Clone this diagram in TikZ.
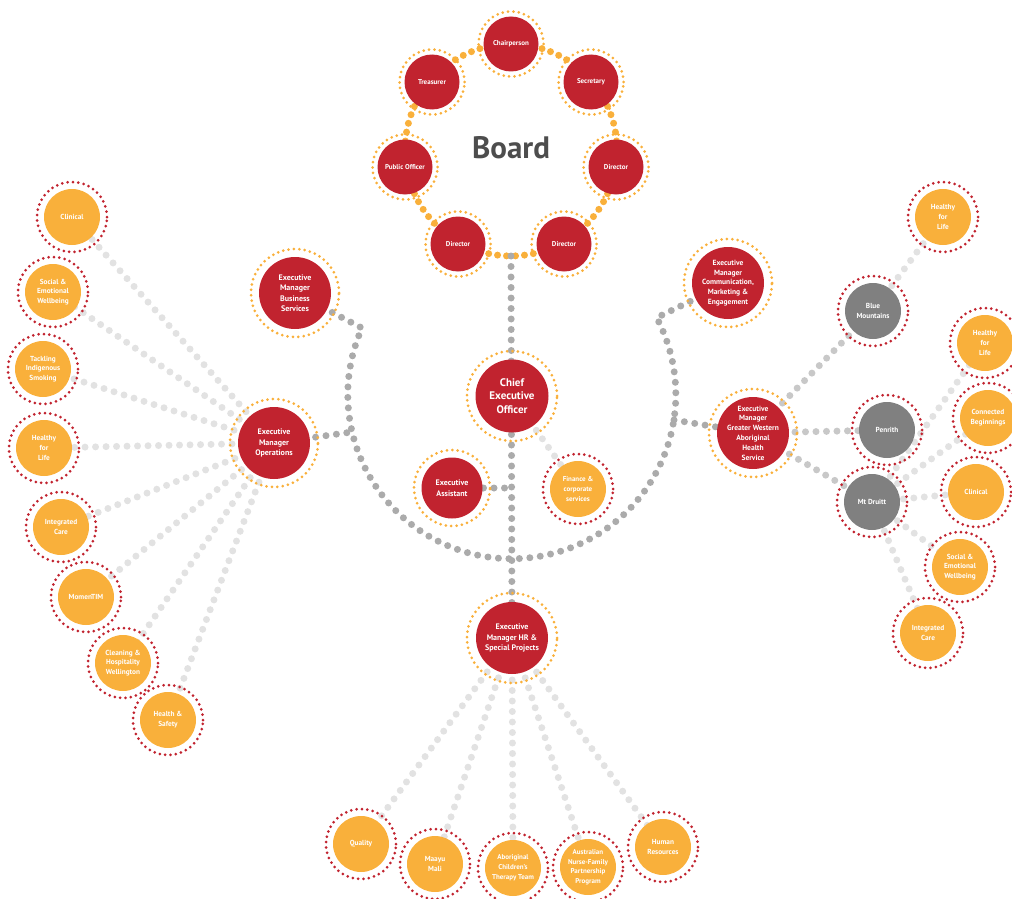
\documentclass[tikz,border=0pt]{standalone}
\usepackage{fontspec}
\setmainfont{PT Sans}
\usetikzlibrary{backgrounds}

\definecolor{unitred}{HTML}{C1232F}
\definecolor{unitorange}{HTML}{F9B03B}
\definecolor{sitegray}{HTML}{808080}
\definecolor{trunkgray}{HTML}{ABABAB}
\definecolor{linkgray}{HTML}{C8C8C8}
\definecolor{branchgray}{HTML}{E2E2E2}
\definecolor{boardtext}{HTML}{4D4D4D}

\tikzset{
  ring/.style={circle, inner sep=0pt, align=center, text=white,
    line width=3pt, dash pattern=on 0pt off 5.4pt, line cap=round},
  core/.style 2 args={path picture={\fill[#1] (path picture bounding box.center) circle (#2pt);}},
  boardmember/.style={ring, draw=unitorange, minimum size=65pt, core={unitred}{27.5},
    font=\fontsize{7}{8.5}\selectfont\bfseries},
  manager/.style={ring, draw=unitorange, minimum size=88pt, core={unitred}{36},
    font=\fontsize{8}{10.5}\selectfont\bfseries},
  programme/.style={ring, draw=unitred, minimum size=70pt, core={unitorange}{28},
    font=\fontsize{7.3}{9.8}\selectfont\bfseries},
  site/.style={ring, draw=unitred, minimum size=70pt, core={sitegray}{28},
    font=\fontsize{7.3}{9.8}\selectfont\bfseries},
  trunk/.style={draw=trunkgray, line width=7pt, dash pattern=on 0pt off 10.5pt, line cap=round},
  link/.style={trunk, draw=linkgray},
  branch/.style={trunk, draw=branchgray},
  boardring/.style={draw=unitorange, line width=7pt, dash pattern=on 0pt off 9pt, line cap=round},
}

\begin{document}
\begin{tikzpicture}[x=1pt,y=-1pt]
    \useasboundingbox (0,0) rectangle (1012,899);

    % board
    \node[boardmember] (chair) at (511,44) {Chairperson};
    \node[boardmember] (secretary) at (591,82) {Secretary};
    \node[boardmember] (director1) at (616,167) {Director};
    \node[boardmember] (director2) at (564,244) {Director};
    \node[boardmember] (director3) at (458,244) {Director};
    \node[boardmember] (publicofficer) at (405,167) {Public Officer};
    \node[boardmember] (treasurer) at (432,82) {Treasurer};
    \node[font=\fontsize{31}{31}\selectfont\bfseries, text=boardtext] (board) at (511,148) {Board};
    \coordinate (boardfoot) at (511,256);

    % executive
    \node[manager, minimum size=90pt, core={unitred}{36.5}, font=\fontsize{11}{13.5}\selectfont\bfseries]
        (ceo) at (512,396) {Chief\\Executive\\Officer};
    \node[manager, minimum size=76pt, core={unitred}{30.5}] (assistant) at (452,488) {Executive\\Assistant};
    \node[programme, font=\fontsize{7}{9.8}\selectfont\bfseries] (finance) at (578,489) {Finance \&\\corporate\\services};
    \node[manager, minimum size=90pt] (hrsp) at (512,638) {Executive\\Manager HR \&\\Special Projects};
    \node[manager] (business) at (295,293) {Executive\\Manager\\Business\\Services};
    \node[manager] (operations) at (274,443) {Executive\\Manager\\Operations};
    \node[manager, font=\fontsize{7.5}{9.8}\selectfont\bfseries] (comms) at (728,283) {Executive\\Manager\\Communication,\\Marketing \&\\Engagement};
    \node[manager, font=\fontsize{7.5}{9.8}\selectfont\bfseries] (gwahs) at (753,433) {Executive\\Manager\\Greater Western\\Aboriginal\\Health\\Service};
    \coordinate (assistantjoin) at (512,488);
    \coordinate (arcleft) at (362,328);
    \coordinate (operationsjoin) at (352,432);
    \coordinate (gwahsjoin) at (674,420);

    % operations programmes
    \node[programme] (clinicalL) at (72,217) {Clinical};
    \node[programme] (wellbeingL) at (53,292) {Social \&\\Emotional\\Wellbeing};
    \node[programme] (smoking) at (43,369) {Tackling\\Indigenous\\Smoking};
    \node[programme] (healthyL) at (44,448) {Healthy\\for\\Life};
    \node[programme] (integratedL) at (61,527) {Integrated\\Care};
    \node[programme] (momentim) at (86,597) {MomenTIM};
    \node[programme] (cleaning) at (123,663) {Cleaning \&\\Hospitality\\Wellington};
    \node[programme] (safety) at (168,720) {Health \&\\Safety};

    % hr programmes
    \node[programme] (quality) at (361,844) {Quality};
    \node[programme] (maayu) at (435,864) {Maayu\\Mali};
    \node[programme, font=\fontsize{7}{9.8}\selectfont\bfseries] (therapy) at (513,868) {Aboriginal\\Children’s\\Therapy Team};
    \node[programme, font=\fontsize{7}{9.5}\selectfont\bfseries] (nursefamily) at (588,867) {Australian\\Nurse-Family\\Partnership\\Program};
    \node[programme] (resources) at (663,847) {Human\\Resources};

    % gwahs sites and programmes
    \node[site] (bluemountains) at (873,311) {Blue\\Mountains};
    \node[site] (penrith) at (887,430) {Penrith};
    \node[site] (mtdruitt) at (872,502) {Mt Druitt};
    \node[programme] (healthyT) at (943,217) {Healthy\\for\\Life};
    \node[programme] (healthyR) at (985,343) {Healthy\\for\\Life};
    \node[programme] (connected) at (988,418) {Connected\\Beginnings};
    \node[programme] (clinicalR) at (976,492) {Clinical};
    \node[programme] (wellbeingR) at (960,567) {Social \&\\Emotional\\Wellbeing};
    \node[programme] (integratedR) at (928,633) {Integrated\\Care};

    \begin{scope}[on background layer]
    \draw[boardring] (511,150) circle (106);

    \draw[trunk] (boardfoot) -- (hrsp.center);
    \draw[trunk] (assistant.center) -- (assistantjoin);
    \draw[trunk] (business.center) -- (arcleft) arc[start angle=204, end angle=-28, radius=164] -- (comms.center);
    \draw[trunk] (operations.center) -- (operationsjoin);
    \draw[trunk] (gwahsjoin) -- (gwahs.center);

    \draw[branch] (ceo.center) -- (finance.center);

    \draw[branch] (operations.center) -- (clinicalL.center);
    \draw[branch] (operations.center) -- (wellbeingL.center);
    \draw[branch] (operations.center) -- (smoking.center);
    \draw[branch] (operations.center) -- (healthyL.center);
    \draw[branch] (operations.center) -- (integratedL.center);
    \draw[branch] (operations.center) -- (momentim.center);
    \draw[branch] (operations.center) -- (cleaning.center);
    \draw[branch] (operations.center) -- (safety.center);

    \draw[branch] (hrsp.center) -- (quality.center);
    \draw[branch] (hrsp.center) -- (maayu.center);
    \draw[branch] (hrsp.center) -- (therapy.center);
    \draw[branch] (hrsp.center) -- (nursefamily.center);
    \draw[branch] (hrsp.center) -- (resources.center);

    \draw[link] (gwahs.center) -- (bluemountains.center);
    \draw[link] (gwahs.center) -- (penrith.center);
    \draw[link] (gwahs.center) -- (mtdruitt.center);
    \draw[branch] (bluemountains.center) -- (healthyT.center);
    \draw[branch] (mtdruitt.center) -- (healthyR.center);
    \draw[branch] (mtdruitt.center) -- (connected.center);
    \draw[branch] (mtdruitt.center) -- (clinicalR.center);
    \draw[branch] (mtdruitt.center) -- (wellbeingR.center);
    \draw[branch] (mtdruitt.center) -- (integratedR.center);
    \end{scope}
\end{tikzpicture}
\end{document}
